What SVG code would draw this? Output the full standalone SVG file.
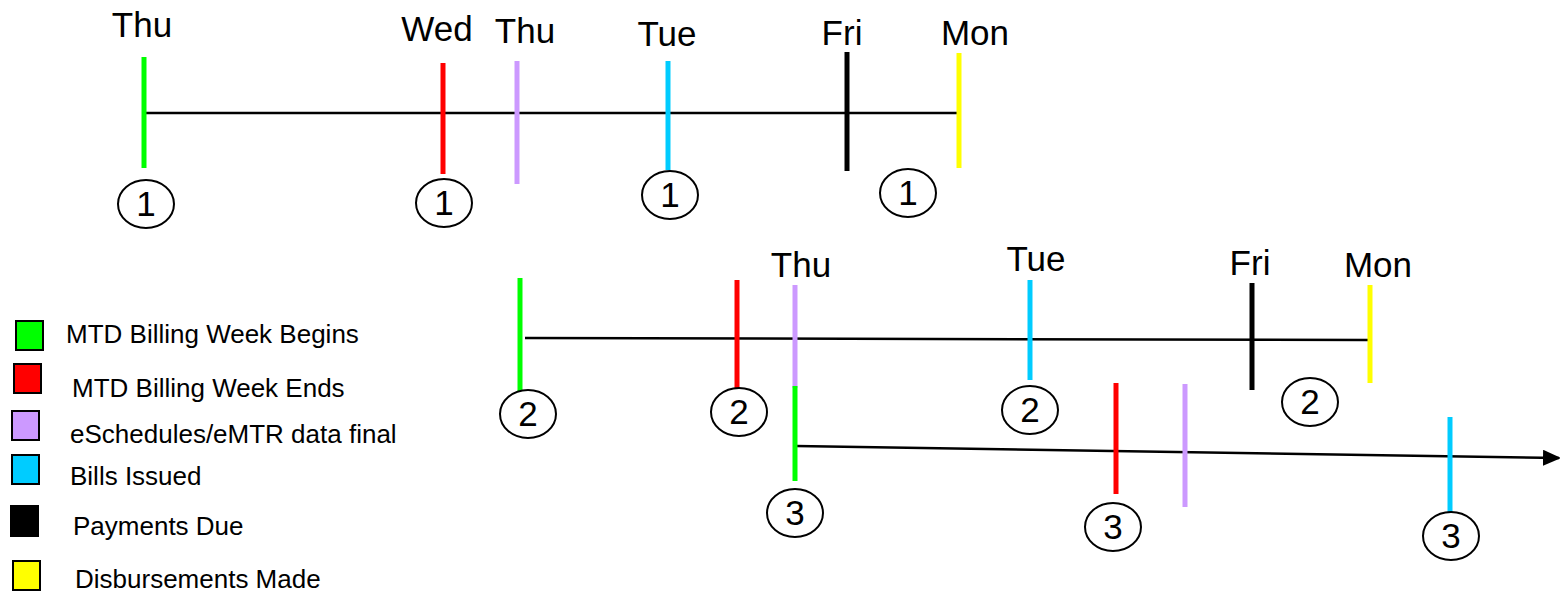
<svg xmlns="http://www.w3.org/2000/svg" width="1560" height="593" viewBox="0 0 1560 593">
<style>
text{font-family:"Liberation Sans",Arial,sans-serif;fill:#000}
.day{font-size:35px;text-anchor:middle}
.num{font-size:35px;text-anchor:middle}
.leg{font-size:26px}
.axis{stroke:#000;stroke-width:2.5;fill:none}
.tk{stroke-width:5;fill:none}
.g{stroke:#00FF00}.r{stroke:#FF0000}.p{stroke:#CC99FF}.c{stroke:#00CCFF}.k{stroke:#000}.y{stroke:#FFFF00}
.circ{fill:#fff;stroke:#000;stroke-width:2}
.sw{stroke:#000;stroke-width:2}
</style>
<defs>
<marker id="arr" markerWidth="18" markerHeight="16" refX="16" refY="8" orient="auto" markerUnits="userSpaceOnUse">
<path d="M0,0 L18,8 L0,16 Z" fill="#000"/>
</marker>
</defs>
<g id="connectors">
<line class="axis" x1="144" y1="113" x2="958" y2="113"/>
<line class="axis" x1="525" y1="338" x2="1368" y2="340"/>
<line class="axis" x1="796" y1="446" x2="1559" y2="458" marker-end="url(#arr)"/>
</g>
<g id="row1">
<g id="r1-thu"><line class="tk g" x1="144" y1="57" x2="144" y2="168"/><text class="day" x="142" y="37">Thu</text></g>
<g id="r1-wed"><line class="tk r" x1="443" y1="63" x2="443" y2="174"/><text class="day" x="437" y="41">Wed</text></g>
<g id="r1-thu2"><line class="tk p" x1="517" y1="61" x2="517" y2="184"/><text class="day" x="525" y="43">Thu</text></g>
<g id="r1-tue"><line class="tk c" x1="668" y1="61" x2="668" y2="170"/><text class="day" x="667" y="46">Tue</text></g>
<g id="r1-fri"><line class="tk k" x1="847" y1="52" x2="847" y2="171"/><text class="day" x="842" y="45">Fri</text></g>
<g id="r1-mon"><line class="tk y" x1="959" y1="53" x2="959" y2="168"/><text class="day" x="975" y="45">Mon</text></g>
<g id="c1a"><ellipse class="circ" cx="146" cy="204" rx="28" ry="24"/><text class="num" x="146" y="216">1</text></g>
<g id="c1b"><ellipse class="circ" cx="444" cy="203" rx="28" ry="24"/><text class="num" x="444" y="215">1</text></g>
<g id="c1c"><ellipse class="circ" cx="670" cy="195" rx="28" ry="24"/><text class="num" x="670" y="207">1</text></g>
<g id="c1d"><ellipse class="circ" cx="908" cy="193" rx="28" ry="24"/><text class="num" x="908" y="205">1</text></g>
</g>
<g id="row2">
<g id="r2-thu"><line class="tk g" x1="520" y1="278" x2="520" y2="397"/></g>
<g id="r2-wed"><line class="tk r" x1="737" y1="280" x2="737" y2="391"/></g>
<g id="r2-thu2"><line class="tk p" x1="795" y1="285" x2="795" y2="388"/><text class="day" x="801" y="277">Thu</text></g>
<g id="r2-tue"><line class="tk c" x1="1030" y1="280" x2="1030" y2="380"/><text class="day" x="1036" y="271">Tue</text></g>
<g id="r2-fri"><line class="tk k" x1="1252" y1="283" x2="1252" y2="390"/><text class="day" x="1250" y="275">Fri</text></g>
<g id="r2-mon"><line class="tk y" x1="1370" y1="285" x2="1370" y2="383"/><text class="day" x="1378" y="277">Mon</text></g>
<g id="c2a"><ellipse class="circ" cx="528" cy="414" rx="28" ry="24"/><text class="num" x="528" y="426">2</text></g>
<g id="c2b"><ellipse class="circ" cx="739" cy="412" rx="28" ry="24"/><text class="num" x="739" y="424">2</text></g>
<g id="c2c"><ellipse class="circ" cx="1030" cy="410" rx="28" ry="24"/><text class="num" x="1030" y="422">2</text></g>
<g id="c2d"><ellipse class="circ" cx="1310" cy="402" rx="28" ry="24"/><text class="num" x="1310" y="414">2</text></g>
</g>
<g id="row3">
<g id="r3-thu"><line class="tk g" x1="795" y1="386" x2="795" y2="481"/></g>
<g id="r3-wed"><line class="tk r" x1="1116" y1="383" x2="1116" y2="494"/></g>
<g id="r3-thu2"><line class="tk p" x1="1185" y1="384" x2="1185" y2="507"/></g>
<g id="r3-tue"><line class="tk c" x1="1450" y1="417" x2="1450" y2="517"/></g>
<g id="c3a"><ellipse class="circ" cx="795" cy="513" rx="28" ry="24"/><text class="num" x="795" y="525">3</text></g>
<g id="c3b"><ellipse class="circ" cx="1113" cy="527" rx="28" ry="24"/><text class="num" x="1113" y="539">3</text></g>
<g id="c3c"><ellipse class="circ" cx="1451" cy="536" rx="28" ry="24"/><text class="num" x="1451" y="548">3</text></g>
</g>
<g id="legend">
<g id="leg-begin"><rect class="sw" x="16" y="321" width="27" height="29" fill="#00FF00"/><text class="leg" x="66" y="343">MTD Billing Week Begins</text></g>
<g id="leg-end"><rect class="sw" x="14" y="364" width="27" height="29" fill="#FF0000"/><text class="leg" x="72" y="397">MTD Billing Week Ends</text></g>
<g id="leg-final"><rect class="sw" x="12" y="411" width="27" height="29" fill="#CC99FF"/><text class="leg" x="70" y="443">eSchedules/eMTR data final</text></g>
<g id="leg-bills"><rect class="sw" x="12" y="455" width="27" height="29" fill="#00CCFF"/><text class="leg" x="70" y="485">Bills Issued</text></g>
<g id="leg-pay"><rect x="10" y="505" width="29" height="32" fill="#000"/><text class="leg" x="73" y="535">Payments Due</text></g>
<g id="leg-disb"><rect class="sw" x="13" y="561" width="27" height="29" fill="#FFFF00"/><text class="leg" x="75" y="588">Disbursements Made</text></g>
</g>
</svg>
